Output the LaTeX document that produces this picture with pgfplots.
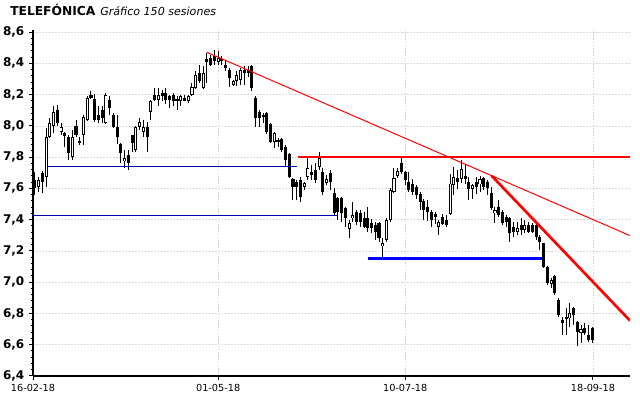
\documentclass[border=0pt]{standalone}
\usepackage{pgfplots}
\pgfplotsset{compat=1.18}
\usepackage{pgfplotstable}
\usepackage{fontspec}
\setmainfont{DejaVu Sans}
\definecolor{navyln}{RGB}{0,0,175}
\definecolor{gridc}{RGB}{212,210,214}

\pgfplotstableread{
i o h l c
0 7.653 7.707 7.557 7.600
1 7.611 7.675 7.579 7.653
2 7.700 7.713 7.568 7.643
3 7.675 7.985 7.611 7.931
4 7.931 8.049 7.921 8.017
5 8.000 8.128 7.957 8.090
6 8.102 8.134 8.000 8.017
7 7.963 8.017 7.942 7.995
8 7.953 7.963 7.867 7.935
9 7.931 7.942 7.782 7.824
10 7.803 7.974 7.782 7.931
11 8.000 8.038 7.931 7.942
12 7.906 7.927 7.878 7.893
13 7.942 8.070 7.878 8.059
14 8.038 8.188 8.034 8.177
15 8.198 8.226 8.171 8.177
16 8.173 8.203 8.027 8.038
17 8.070 8.128 8.017 8.038
18 8.102 8.124 8.017 8.049
19 8.017 8.209 8.012 8.198
20 8.166 8.188 8.070 8.113
21 8.070 8.081 7.985 7.995
22 7.995 8.070 7.884 7.931
23 7.882 7.893 7.760 7.824
24 7.777 7.846 7.728 7.792
25 7.814 7.846 7.718 7.760
26 7.942 7.942 7.835 7.888
27 7.846 8.000 7.835 7.995
28 7.991 8.049 7.974 8.027
29 7.963 8.038 7.931 7.995
30 7.995 8.027 7.835 7.931
31 8.091 8.166 8.038 8.156
32 8.198 8.241 8.156 8.166
33 8.166 8.241 8.124 8.198
34 8.209 8.230 8.156 8.188
35 8.209 8.241 8.141 8.166
36 8.192 8.198 8.113 8.166
37 8.198 8.209 8.128 8.156
38 8.171 8.188 8.102 8.156
39 8.156 8.198 8.124 8.188
40 8.177 8.198 8.156 8.156
41 8.156 8.198 8.149 8.188
42 8.198 8.273 8.188 8.247
43 8.241 8.348 8.235 8.326
44 8.337 8.391 8.277 8.284
45 8.241 8.384 8.235 8.337
46 8.427 8.465 8.273 8.406
47 8.433 8.455 8.380 8.391
48 8.444 8.482 8.386 8.412
49 8.406 8.476 8.391 8.433
50 8.427 8.444 8.391 8.418
51 8.391 8.412 8.348 8.369
52 8.359 8.369 8.247 8.305
53 8.262 8.294 8.252 8.284
54 8.284 8.348 8.256 8.326
55 8.294 8.369 8.262 8.359
56 8.359 8.384 8.262 8.337
57 8.354 8.380 8.312 8.341
58 8.384 8.391 8.220 8.241
59 8.177 8.188 7.995 8.049
60 8.091 8.102 7.995 8.049
61 8.070 8.081 8.017 8.059
62 8.081 8.091 7.948 7.963
63 8.012 8.017 7.888 7.899
64 7.899 7.963 7.856 7.957
65 7.910 7.921 7.867 7.899
66 7.914 7.921 7.835 7.846
67 7.867 7.878 7.739 7.782
68 7.820 7.824 7.664 7.675
69 7.658 7.664 7.525 7.611
70 7.643 7.653 7.525 7.611
71 7.653 7.675 7.515 7.547
72 7.611 7.643 7.589 7.632
73 7.675 7.803 7.653 7.728
74 7.707 7.750 7.653 7.685
75 7.718 7.760 7.632 7.653
76 7.739 7.835 7.718 7.792
77 7.707 7.728 7.557 7.578
78 7.636 7.685 7.621 7.658
79 7.696 7.718 7.589 7.643
80 7.569 7.601 7.430 7.440
81 7.537 7.547 7.398 7.451
82 7.537 7.547 7.387 7.440
83 7.473 7.483 7.355 7.408
84 7.338 7.398 7.280 7.376
85 7.408 7.515 7.387 7.430
86 7.451 7.462 7.366 7.387
87 7.440 7.462 7.355 7.387
88 7.408 7.451 7.344 7.355
89 7.408 7.483 7.323 7.344
90 7.376 7.402 7.316 7.344
91 7.366 7.387 7.269 7.323
92 7.376 7.387 7.259 7.280
93 7.231 7.280 7.152 7.248
94 7.269 7.408 7.259 7.398
95 7.398 7.601 7.387 7.590
96 7.580 7.729 7.573 7.665
97 7.680 7.729 7.665 7.712
98 7.761 7.804 7.693 7.702
99 7.702 7.708 7.622 7.654
100 7.642 7.706 7.577 7.588
101 7.631 7.663 7.556 7.577
102 7.610 7.620 7.535 7.556
103 7.567 7.577 7.460 7.513
104 7.518 7.535 7.396 7.460
105 7.481 7.524 7.389 7.449
106 7.449 7.460 7.353 7.396
107 7.438 7.449 7.374 7.417
108 7.353 7.396 7.299 7.385
109 7.417 7.438 7.363 7.374
110 7.396 7.428 7.353 7.363
111 7.438 7.695 7.428 7.631
112 7.620 7.738 7.556 7.674
113 7.667 7.717 7.599 7.642
114 7.663 7.781 7.637 7.727
115 7.678 7.749 7.631 7.659
116 7.642 7.674 7.524 7.599
117 7.599 7.631 7.535 7.620
118 7.642 7.674 7.567 7.610
119 7.625 7.680 7.577 7.663
120 7.664 7.674 7.589 7.611
121 7.643 7.653 7.557 7.600
122 7.568 7.611 7.462 7.472
123 7.440 7.483 7.377 7.462
124 7.483 7.526 7.419 7.430
125 7.451 7.462 7.366 7.377
126 7.419 7.430 7.355 7.387
127 7.408 7.419 7.260 7.313
128 7.355 7.387 7.291 7.323
129 7.323 7.387 7.302 7.345
130 7.366 7.408 7.302 7.334
131 7.334 7.398 7.313 7.366
132 7.366 7.387 7.317 7.323
133 7.366 7.377 7.313 7.323
134 7.366 7.377 7.270 7.291
135 7.287 7.302 7.206 7.260
136 7.249 7.249 7.089 7.100
137 7.100 7.104 6.983 6.994
138 6.989 7.025 6.962 7.011
139 7.040 7.047 6.919 6.930
140 6.889 6.896 6.779 6.789
141 6.757 6.779 6.662 6.736
142 6.768 6.832 6.662 6.779
143 6.768 6.864 6.715 6.800
144 6.832 6.843 6.725 6.789
145 6.747 6.753 6.591 6.683
146 6.677 6.725 6.608 6.698
147 6.704 6.736 6.662 6.677
148 6.662 6.725 6.619 6.630
149 6.704 6.715 6.608 6.630
}\data

\begin{document}
\begin{tikzpicture}
\useasboundingbox (-24.75pt,-16.5pt) rectangle (455.25pt,282pt);
\begin{axis}[
  at={(0,0)}, anchor=south west, scale only axis,
  width=447.75pt, height=259.5pt,
  xmin=-0.5, xmax=159.1, ymin=6.4, ymax=8.613,
  axis x line*=bottom, axis y line*=left,
  axis line style={black, line width=0.9pt, -},
  xtick={-0.5,49,99,149.2},
  xticklabels={16-02-18,01-05-18,10-07-18,18-09-18},
  ytick={6.4,6.6,6.8,7.0,7.2,7.4,7.6,7.8,8.0,8.2,8.4,8.6},
  yticklabels={{6,4},{6,6},{6,8},{7,0},{7,2},{7,4},{7,6},{7,8},{8,0},{8,2},{8,4},{8,6}},
  minor y tick num=4,
  tick align=outside,
  major tick length=3pt, minor tick length=1.6pt,
  tick style={black, line width=0.75pt},
  grid=major,
  major grid style={gridc, dash pattern=on 1.2pt off 1.2pt, line width=0.5pt},
  xticklabel style={font=\fontsize{7.3}{8}\selectfont},
  yticklabel style={font=\fontsize{9}{10}\selectfont\bfseries},
]
% wicks
\addplot[draw=none, mark=none, forget plot,
  error bars/.cd, y dir=both, y explicit, error mark=none,
  error bar style={draw=black, solid, line width=0.75pt}]
  table[x=i, y expr={(\thisrow{h}+\thisrow{l})/2}, y error expr={(\thisrow{h}-\thisrow{l})/2}] {\data};
% bodies (black)
\addplot[draw=none, mark=none, forget plot,
  error bars/.cd, y dir=both, y explicit, error mark=none,
  error bar style={draw=black, solid, line width=2.3pt}]
  table[x=i, y expr={(\thisrow{o}+\thisrow{c})/2}, y error expr={max(abs(\thisrow{c}-\thisrow{o})/2,0.003)}] {\data};
% white interior for rising candles
\addplot[draw=none, mark=none, forget plot, restrict y to domain=0:20,
  error bars/.cd, y dir=both, y explicit, error mark=none,
  error bar style={draw=white, solid, line width=0.85pt}]
  table[x=i, y expr={(\thisrow{c}>\thisrow{o}) ? (\thisrow{o}+\thisrow{c})/2 : -100}, y error expr={max((\thisrow{c}-\thisrow{o})/2-0.0062,0)}] {\data};
% support / resistance lines
\addplot[navyln, line width=0.75pt] coordinates {(3.5,7.739) (70,7.739)};
\addplot[navyln, line width=0.75pt] coordinates {(-0.5,7.428) (81,7.428)};
\addplot[red, line width=2pt] coordinates {(70.3,7.80) (159.1,7.80)};
\addplot[blue, line width=2pt] coordinates {(89,7.153) (135.7,7.153)};
\addplot[red, line width=0.75pt] coordinates {(46,8.47) (159.1,7.298)};
\addplot[red, line width=2pt] coordinates {(122.1,7.681) (159.1,6.754)};
\end{axis}
\node[anchor=base west, inner sep=0pt] at (-17.25pt,270pt) {\fontsize{9.2}{10}\selectfont\bfseries TELEFÓNICA};
\node[anchor=base west, inner sep=0pt] at (50.25pt,270pt) {\fontsize{8.3}{10}\selectfont\itshape Gráfico 150 sesiones};
\end{tikzpicture}
\end{document}
